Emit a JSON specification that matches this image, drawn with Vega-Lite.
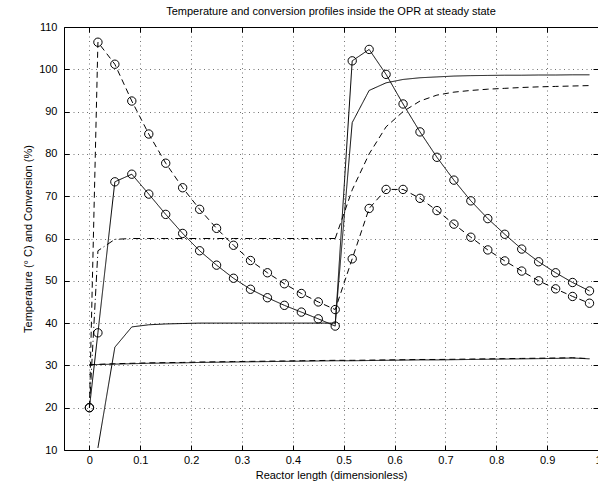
{
  "$schema": "https://vega.github.io/schema/vega-lite/v6.json",
  "width": 534,
  "height": 423,
  "autosize": "none",
  "padding": {"left": 64, "top": 27, "right": 0, "bottom": 33},
  "background": "white",
  "config": {
    "font": "Liberation Sans",
    "view": {"stroke": "black", "strokeWidth": 1},
    "axis": {"labelFont": "Liberation Sans", "titleFont": "Liberation Sans", "labelFontSize": 11, "titleFontSize": 11, "titleFontWeight": "normal", "labelColor": "black", "titleColor": "black"}
  },
  "title": {"text": "Temperature and conversion profiles inside the OPR at steady state", "fontSize": 11, "fontWeight": "normal", "font": "Liberation Sans", "offset": 4, "anchor": "middle", "color": "black"},
  "datasets": {
    "profiles": [
      {"s":"A","x":0,"y":20},{"s":"A","x":0.0167,"y":37.7},{"s":"A","x":0.05,"y":73.4},{"s":"A","x":0.0833,"y":75.2},{"s":"A","x":0.1167,"y":70.5},{"s":"A","x":0.15,"y":65.7},{"s":"A","x":0.1833,"y":61.2},{"s":"A","x":0.2167,"y":57.1},{"s":"A","x":0.25,"y":53.7},{"s":"A","x":0.2833,"y":50.6},{"s":"A","x":0.3167,"y":48.0},{"s":"A","x":0.35,"y":46.0},{"s":"A","x":0.3833,"y":44.2},{"s":"A","x":0.4167,"y":42.6},{"s":"A","x":0.45,"y":41.0},{"s":"A","x":0.4833,"y":39.3},{"s":"A","x":0.5167,"y":102.0},{"s":"A","x":0.55,"y":104.7},{"s":"A","x":0.5833,"y":98.8},{"s":"A","x":0.6167,"y":91.8},{"s":"A","x":0.65,"y":85.2},{"s":"A","x":0.6833,"y":79.2},{"s":"A","x":0.7167,"y":73.8},{"s":"A","x":0.75,"y":68.9},{"s":"A","x":0.7833,"y":64.7},{"s":"A","x":0.8167,"y":61.0},{"s":"A","x":0.85,"y":57.5},{"s":"A","x":0.8833,"y":54.5},{"s":"A","x":0.9167,"y":51.9},{"s":"A","x":0.95,"y":49.6},{"s":"A","x":0.9833,"y":47.6},
      {"s":"B","x":0,"y":20},{"s":"B","x":0.0167,"y":106.4},{"s":"B","x":0.05,"y":101.2},{"s":"B","x":0.0833,"y":92.5},{"s":"B","x":0.1167,"y":84.7},{"s":"B","x":0.15,"y":77.8},{"s":"B","x":0.1833,"y":72.0},{"s":"B","x":0.2167,"y":66.9},{"s":"B","x":0.25,"y":62.4},{"s":"B","x":0.2833,"y":58.4},{"s":"B","x":0.3167,"y":54.8},{"s":"B","x":0.35,"y":51.9},{"s":"B","x":0.3833,"y":49.3},{"s":"B","x":0.4167,"y":47.0},{"s":"B","x":0.45,"y":45.0},{"s":"B","x":0.4833,"y":43.2},{"s":"B","x":0.5167,"y":55.2},{"s":"B","x":0.55,"y":67.1},{"s":"B","x":0.5833,"y":71.6},{"s":"B","x":0.6167,"y":71.6},{"s":"B","x":0.65,"y":69.5},{"s":"B","x":0.6833,"y":66.6},{"s":"B","x":0.7167,"y":63.4},{"s":"B","x":0.75,"y":60.3},{"s":"B","x":0.7833,"y":57.3},{"s":"B","x":0.8167,"y":54.7},{"s":"B","x":0.85,"y":52.3},{"s":"B","x":0.8833,"y":50.0},{"s":"B","x":0.9167,"y":48.1},{"s":"B","x":0.95,"y":46.3},{"s":"B","x":0.9833,"y":44.7},
      {"s":"C","x":0.0167,"y":10.5},{"s":"C","x":0.05,"y":34.3},{"s":"C","x":0.0833,"y":39.1},{"s":"C","x":0.1167,"y":39.6},{"s":"C","x":0.15,"y":39.8},{"s":"C","x":0.1833,"y":39.9},{"s":"C","x":0.2167,"y":40.0},{"s":"C","x":0.25,"y":40.0},{"s":"C","x":0.2833,"y":40.0},{"s":"C","x":0.3167,"y":40.0},{"s":"C","x":0.35,"y":40.0},{"s":"C","x":0.3833,"y":40.0},{"s":"C","x":0.4167,"y":40.0},{"s":"C","x":0.45,"y":40.0},{"s":"C","x":0.4833,"y":40.0},{"s":"C","x":0.5167,"y":87.4},{"s":"C","x":0.55,"y":95.0},{"s":"C","x":0.5833,"y":96.8},{"s":"C","x":0.6167,"y":97.6},{"s":"C","x":0.65,"y":98.0},{"s":"C","x":0.6833,"y":98.2},{"s":"C","x":0.7167,"y":98.4},{"s":"C","x":0.75,"y":98.5},{"s":"C","x":0.7833,"y":98.55},{"s":"C","x":0.8167,"y":98.6},{"s":"C","x":0.85,"y":98.6},{"s":"C","x":0.8833,"y":98.65},{"s":"C","x":0.9167,"y":98.65},{"s":"C","x":0.95,"y":98.7},{"s":"C","x":0.9833,"y":98.7},
      {"s":"D","x":0,"y":20},{"s":"D","x":0.0167,"y":57.1},{"s":"D","x":0.05,"y":59.8},{"s":"D","x":0.0833,"y":60.0},{"s":"D","x":0.1167,"y":60.0},{"s":"D","x":0.15,"y":60.0},{"s":"D","x":0.1833,"y":60.0},{"s":"D","x":0.2167,"y":60.0},{"s":"D","x":0.25,"y":60.0},{"s":"D","x":0.2833,"y":60.0},{"s":"D","x":0.3167,"y":60.0},{"s":"D","x":0.35,"y":60.0},{"s":"D","x":0.3833,"y":60.0},{"s":"D","x":0.4167,"y":60.0},{"s":"D","x":0.45,"y":60.0},{"s":"D","x":0.4833,"y":60.0},
      {"s":"E","x":0.4833,"y":60.0},{"s":"E","x":0.5167,"y":71.5},{"s":"E","x":0.55,"y":80.0},{"s":"E","x":0.5833,"y":86.4},{"s":"E","x":0.6167,"y":90.0},{"s":"E","x":0.65,"y":92.5},{"s":"E","x":0.6833,"y":93.9},{"s":"E","x":0.7167,"y":94.6},{"s":"E","x":0.75,"y":95.0},{"s":"E","x":0.7833,"y":95.3},{"s":"E","x":0.8167,"y":95.5},{"s":"E","x":0.85,"y":95.7},{"s":"E","x":0.8833,"y":95.85},{"s":"E","x":0.9167,"y":95.95},{"s":"E","x":0.95,"y":96.05},{"s":"E","x":0.9833,"y":96.15},
      {"s":"F","x":0,"y":30.15},{"s":"F","x":0.0167,"y":30.2},{"s":"F","x":0.05,"y":30.3},{"s":"F","x":0.0833,"y":30.4},{"s":"F","x":0.1167,"y":30.5},{"s":"F","x":0.15,"y":30.55},{"s":"F","x":0.1833,"y":30.6},{"s":"F","x":0.2167,"y":30.7},{"s":"F","x":0.25,"y":30.75},{"s":"F","x":0.2833,"y":30.8},{"s":"F","x":0.3167,"y":30.85},{"s":"F","x":0.35,"y":30.9},{"s":"F","x":0.3833,"y":30.95},{"s":"F","x":0.4167,"y":31.0},{"s":"F","x":0.45,"y":31.05},{"s":"F","x":0.4833,"y":31.1},{"s":"F","x":0.5167,"y":31.1},{"s":"F","x":0.55,"y":31.15},{"s":"F","x":0.5833,"y":31.2},{"s":"F","x":0.6167,"y":31.25},{"s":"F","x":0.65,"y":31.3},{"s":"F","x":0.6833,"y":31.3},{"s":"F","x":0.7167,"y":31.35},{"s":"F","x":0.75,"y":31.4},{"s":"F","x":0.7833,"y":31.45},{"s":"F","x":0.8167,"y":31.5},{"s":"F","x":0.85,"y":31.55},{"s":"F","x":0.8833,"y":31.6},{"s":"F","x":0.9167,"y":31.65},{"s":"F","x":0.95,"y":31.75},{"s":"F","x":0.9833,"y":31.55},
      {"s":"G","x":0,"y":30.15},{"s":"G","x":0.0167,"y":30.25},{"s":"G","x":0.05,"y":30.4},{"s":"G","x":0.0833,"y":30.5},{"s":"G","x":0.1167,"y":30.6},{"s":"G","x":0.15,"y":30.65},{"s":"G","x":0.1833,"y":30.7},{"s":"G","x":0.2167,"y":30.8},{"s":"G","x":0.25,"y":30.85},{"s":"G","x":0.2833,"y":30.9},{"s":"G","x":0.3167,"y":30.95},{"s":"G","x":0.35,"y":31.0},{"s":"G","x":0.3833,"y":31.05},{"s":"G","x":0.4167,"y":31.1},{"s":"G","x":0.45,"y":31.15},{"s":"G","x":0.4833,"y":31.2},{"s":"G","x":0.5167,"y":31.2},{"s":"G","x":0.55,"y":31.25},{"s":"G","x":0.5833,"y":31.3},{"s":"G","x":0.6167,"y":31.35},{"s":"G","x":0.65,"y":31.4},{"s":"G","x":0.6833,"y":31.4},{"s":"G","x":0.7167,"y":31.45},{"s":"G","x":0.75,"y":31.5},{"s":"G","x":0.7833,"y":31.55},{"s":"G","x":0.8167,"y":31.6},{"s":"G","x":0.85,"y":31.65},{"s":"G","x":0.8833,"y":31.7},{"s":"G","x":0.9167,"y":31.75},{"s":"G","x":0.95,"y":31.8},{"s":"G","x":0.9833,"y":31.6}
    ]
  },
  "data": {"name": "profiles"},
  "layer": [
    {
      "mark": {"type": "line", "color": "black", "strokeWidth": 1, "clip": true},
      "encoding": {
        "x": {"field": "x", "type": "quantitative", "scale": {"domain": [-0.05, 1.0], "nice": false, "zero": false},
          "axis": {"orient": "bottom", "values": [0,0.1,0.2,0.3,0.4,0.5,0.6,0.7,0.8,0.9,1], "format": "~g", "title": "Reactor length (dimensionless)", "titlePadding": 4, "tickSize": -5, "tickColor": "black", "labelPadding": 9, "domain": false, "grid": true, "gridColor": "#000", "gridOpacity": 0.55, "gridDash": [1, 3.5], "labelFlush": false, "labelOverlap": false}},
        "y": {"field": "y", "type": "quantitative", "scale": {"domain": [10, 110], "nice": false, "zero": false},
          "axis": {"orient": "left", "values": [10,20,30,40,50,60,70,80,90,100,110], "title": "Temperature (° C) and Conversion (%)", "titlePadding": 5, "tickSize": -5, "tickColor": "black", "labelPadding": 12, "domain": false, "grid": true, "gridColor": "#000", "gridOpacity": 0.55, "gridDash": [1, 3.5], "labelFlush": false, "labelOverlap": false}},
        "detail": {"field": "s"},
        "strokeDash": {"field": "s", "type": "nominal", "legend": null,
          "scale": {"domain": ["A","B","C","D","E","F","G"], "range": [[1,0],[6,4],[1,0],[7,3,1,3],[6,4],[1,0],[6,4]]}}
      }
    },
    {
      "transform": [{"filter": "datum.s === 'A' || datum.s === 'B'"}],
      "mark": {"type": "point", "shape": "circle", "filled": false, "color": "black", "strokeWidth": 1, "size": 70, "opacity": 1, "clip": true},
      "encoding": {
        "x": {"field": "x", "type": "quantitative", "axis": null},
        "y": {"field": "y", "type": "quantitative", "axis": null}
      }
    },
    {
      "mark": {"type": "point", "opacity": 0},
      "encoding": {
        "x": {"field": "x", "type": "quantitative", "axis": {"orient": "top", "values": [0,0.1,0.2,0.3,0.4,0.5,0.6,0.7,0.8,0.9,1], "labels": false, "title": null, "tickSize": -5, "tickColor": "black", "domain": false, "grid": false}},
        "y": {"field": "y", "type": "quantitative", "axis": {"orient": "right", "values": [10,20,30,40,50,60,70,80,90,100,110], "labels": false, "title": null, "tickSize": -5, "tickColor": "black", "domain": false, "grid": false}}
      }
    }
  ],
  "resolve": {"axis": {"x": "independent", "y": "independent"}}
}
